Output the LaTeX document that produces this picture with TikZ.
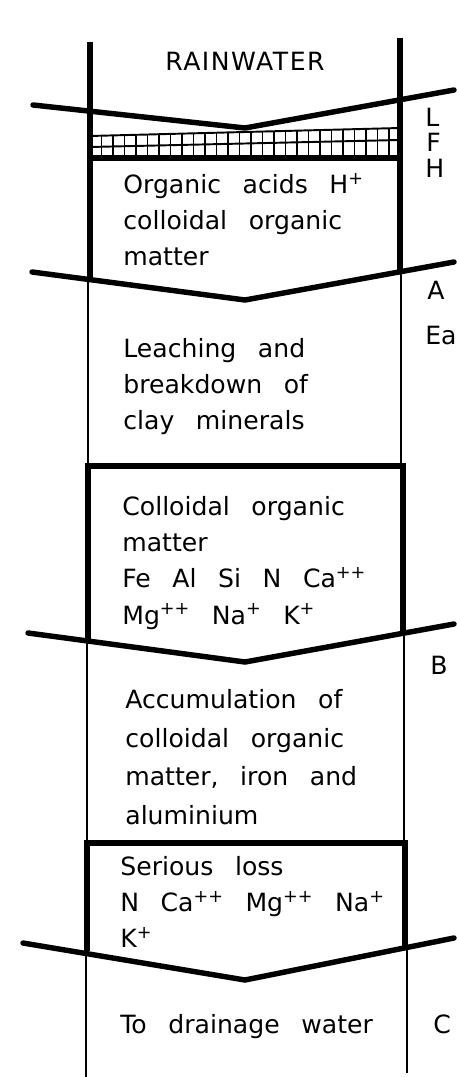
\documentclass[tikz,border=0pt]{standalone}
\usepackage{fontspec}
\setmainfont{DejaVu Sans}[WordSpace=2.7]
\usepackage{tikz}
\usetikzlibrary{positioning}
\tikzset{
  wallthick/.style={
    line width=3.1pt,
    black
  },
  wallthin/.style={
    line width=1.1pt,
    black
  },
  horizon/.style={
    line width=3.1pt,
    black,
    line cap=round,
    line join=miter
  },
  litter/.style={
    line width=1.1pt,
    black
  },
  blocktext/.style={
    anchor=north west,
    inner sep=0pt,
    align=left,
    font=\fontsize{14.3}{20.6}\selectfont
  },
  layerlabel/.style={
    anchor=west,
    inner sep=0pt,
    font=\fontsize{14.3}{17}\selectfont
  }
}

\begin{document}
\begin{tikzpicture}[x=0.02cm, y=-0.02cm]
\useasboundingbox (0,0) rectangle (456,1077);
% walls of the column
\draw[wallthick] (90,42) -- (90,278);
\draw[wallthick] (400,38) -- (400,272);
\draw[wallthin] (88,278) -- (88,466);
\draw[wallthin] (401,272) -- (401,466);
\draw[wallthin] (87,640) -- (87,843);
\draw[wallthin] (404,633) -- (404,843);
\draw[wallthin] (86,951) -- (86,1077);
\draw[wallthin] (407,948) -- (407,1073);
% thick boxes
\draw[wallthick] (90,158) -- (400,158);
\draw[wallthick] (88,640) |- (403,466) -- (403,633);
\draw[wallthick] (87,951) |- (405,843) -- (405,948);
% litter layer grid
\draw[litter] (90,136) -- (400,128);
\draw[litter] (90,147) -- (400,140);
\foreach \k in {1,...,26}
  \draw[litter] ({90+\k*11.5},{136-\k*11.5*8/310}) -- ({90+\k*11.5},158);
% horizon boundaries
\draw[horizon] (33,105) -- (245,128) -- (454,90);
\draw[horizon] (32,272) -- (245,300) -- (454,262);
\draw[horizon] (28,633) -- (245,662) -- (454,624);
\draw[horizon] (23,943) -- (245,980) -- (454,938);
% texts
\node[font=\fontsize{14.3}{17}\selectfont\addfontfeature{LetterSpace=6}] (rain) at (245,61) {RAINWATER};
\node[blocktext] (acids) at (123,173) {Organic acids H\textsuperscript{+}\\colloidal organic\\matter};
\node[blocktext] (leach) at (123,338) {Leaching and\\breakdown of\\clay minerals};
\node[blocktext] (cations) at (122,496) {Colloidal organic\\matter\\Fe Al Si N Ca\textsuperscript{++}\\Mg\textsuperscript{++} Na\textsuperscript{+} K\textsuperscript{+}};
\node[blocktext, font=\fontsize{14.3}{22}\selectfont] (accum) at (125,689) {Accumulation of\\colloidal organic\\matter, iron and\\aluminium};
\node[blocktext] (loss) at (120,856) {Serious loss\\N Ca\textsuperscript{++} Mg\textsuperscript{++} Na\textsuperscript{+}\\K\textsuperscript{+}};
\node[blocktext] (drain) at (120,1014) {To drainage water};
% horizon letters
\node[layerlabel] (hL) at (425,117) {L};
\node[layerlabel] (hF) at (426,142) {F};
\node[layerlabel] (hH) at (425,168) {H};
\node[layerlabel] (hA) at (427,290) {A};
\node[layerlabel] (hEa) at (425,336) {Ea};
\node[layerlabel] (hB) at (430,665) {B};
\node[layerlabel] (hC) at (433,1024) {C};
\end{tikzpicture}
\end{document}
